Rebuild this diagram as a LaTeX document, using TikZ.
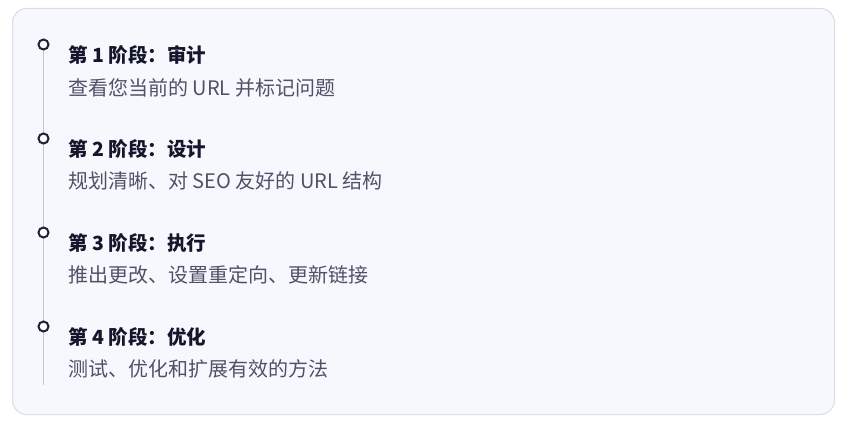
\documentclass[tikz,border=0pt]{standalone}
\usepackage{fontspec}
\newfontfamily\cjk{Noto Sans CJK SC}
\definecolor{bgfill}{HTML}{F7F8FE}
\definecolor{bgdraw}{HTML}{DCDDE3}
\definecolor{titlec}{HTML}{14172B}
\definecolor{subc}{HTML}{4E5266}
\definecolor{linec}{HTML}{C5C7D0}
\definecolor{dotc}{HTML}{1E2237}
\tikzset{
  stitle/.style={anchor=west, inner sep=0pt, font=\cjk\bfseries\fontsize{19.5}{22}\selectfont, text=titlec},
  ssub/.style={anchor=west, inner sep=0pt, font=\cjk\fontsize{20}{22}\selectfont, text=subc},
  sdot/.style={circle, draw=dotc, fill=white, line width=2pt, minimum size=10pt, inner sep=0pt},
}
\begin{document}
\begin{tikzpicture}[x=1pt,y=-1pt]
\useasboundingbox (0,0) rectangle (845,420);
\draw[fill=bgfill, draw=bgdraw, line width=1pt, rounded corners=14pt] (12.5,8.5) rectangle (834.5,414.5);
\coordinate (top) at (43.5,45);
\coordinate (bot) at (43.5,385);
\draw[linec, line width=1.8pt] (top) -- (bot);
\node[sdot] (d1) at (43.5,44.5) {};
\node[sdot] (d2) at (43.5,138.5) {};
\node[sdot] (d3) at (43.5,232.5) {};
\node[sdot] (d4) at (43.5,326.5) {};
\node[stitle] (t1) at (68,55) {第 1 阶段：审计};
\node[ssub] (s1) at (68,88) {查看您当前的 URL 并标记问题};
\node[stitle] (t2) at (68,149) {第 2 阶段：设计};
\node[ssub] (s2) at (68,181) {规划清晰、对 SEO 友好的 URL 结构};
\node[stitle] (t3) at (68,243) {第 3 阶段：执行};
\node[ssub] (s3) at (68,275) {推出更改、设置重定向、更新链接};
\node[stitle] (t4) at (68,337) {第 4 阶段：优化};
\node[ssub] (s4) at (68,369) {测试、优化和扩展有效的方法};
\end{tikzpicture}
\end{document}
